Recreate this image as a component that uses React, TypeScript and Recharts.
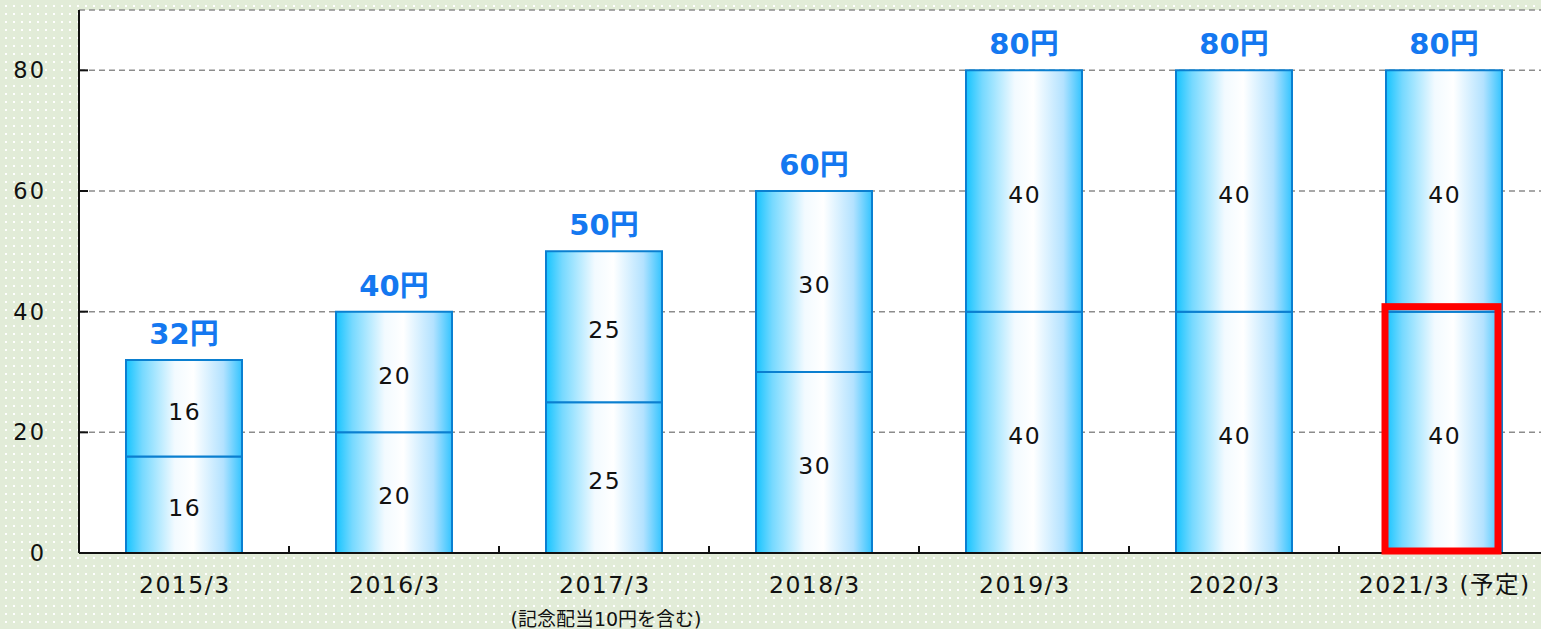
import React from "react";
import {
  BarChart,
  Bar,
  XAxis,
  YAxis,
  CartesianGrid,
  LabelList,
} from "recharts";

const categories = ["2015/3", "2016/3", "2017/3", "2018/3", "2019/3", "2020/3", "2021/3"];
const tickLabels = ["2015/3", "2016/3", "2017/3", "2018/3", "2019/3", "2020/3", "2021/3 (予定)"];
const tickNotes = ["", "", "(記念配当10円を含む)", "", "", "", ""];
const interimValues = [16, 20, 25, 30, 40, 40, 40];
const yearEndValues = [16, 20, 25, 30, 40, 40, 40];
const totalValues = [32, 40, 50, 60, 80, 80, 80];
const yTicks = [0, 20, 40, 60, 80];
const highlightCategory = "2021/3";

const data = categories.map((cat, i) => ({
  cat,
  first: interimValues[i],
  second: yearEndValues[i],
  total: totalValues[i],
}));

const FONT = "'DejaVu Sans', Verdana, 'Noto Sans CJK JP', sans-serif";
const HALF_BAND = 105;
const highlightIndex = categories.indexOf(highlightCategory);

const XTick = (props: any) => {
  const { x, y, payload } = props;
  const idx = categories.indexOf(payload.value);
  const label = tickLabels[idx];
  const note = tickNotes[idx];
  return (
    <g>
      <line x1={x + HALF_BAND} x2={x + HALF_BAND} y1={y} y2={y - 7} stroke="#111" strokeWidth={2} />
      <text
        x={x + 0.8}
        y={y + 40}
        textAnchor="middle"
        fontSize={23.5}
        letterSpacing={1.5}
        fill="#111"
        fontFamily={FONT}
      >
        {label}
      </text>
      {note ? (
        <text
          x={x + 2}
          y={y + 73}
          textAnchor="middle"
          fontSize={19}
          fill="#111"
          fontFamily={FONT}
        >
          {note}
        </text>
      ) : null}
    </g>
  );
};

const YTick = (props: any) => {
  const { x, y, payload } = props;
  return (
    <g>
      {payload.value !== 0 ? (
        <line x1={x} x2={x + 9} y1={y} y2={y} stroke="#111" strokeWidth={2} />
      ) : null}
      <text
        x={x - 33}
        y={y + 8}
        textAnchor="end"
        fontSize={22.5}
        letterSpacing={2}
        fill="#111"
        fontFamily={FONT}
      >
        {payload.value}
      </text>
    </g>
  );
};

const SegmentLabel = (props: any) => {
  const { viewBox, value } = props;
  if (!viewBox) return null;
  const { x, y, width, height } = viewBox;
  return (
    <text
      x={x + width / 2 + 0.8}
      y={y + height / 2 + 11.5}
      textAnchor="middle"
      fontSize={23.5}
      letterSpacing={1.5}
      fill="#111"
      fontFamily={FONT}
    >
      {value}
    </text>
  );
};

const HighlightBox = (props: any) => {
  const { viewBox, index } = props;
  if (!viewBox || index !== highlightIndex) return null;
  const { x, y, width, height } = viewBox;
  return (
    <rect
      x={x - 1}
      y={y - 5}
      width={width - 3}
      height={height + 3}
      fill="none"
      stroke="#ff0000"
      strokeWidth={7}
    />
  );
};

export default function App() {
  return (
    <div
      style={{
        position: "absolute",
        left: 0,
        top: 0,
        width: 1541,
        height: 629,
        overflow: "hidden",
        backgroundColor: "#e2ecd8",
        backgroundImage: "radial-gradient(circle, #ffffff 0.9px, transparent 1.3px)",
        backgroundSize: "8px 8px",
        backgroundPosition: "2px 2px",
      }}
    >
      <BarChart
        width={1560}
        height={629}
        data={data}
        margin={{ top: 10, right: 11, bottom: 0, left: 0 }}
        barSize={116}
      >
        <defs>
          <linearGradient id="barGrad" x1="0" y1="0" x2="1" y2="0">
            <stop offset="0%" stopColor="#16c4ff" />
            <stop offset="14%" stopColor="#76d9ff" />
            <stop offset="42%" stopColor="#f2faff" />
            <stop offset="58%" stopColor="#ffffff" />
            <stop offset="84%" stopColor="#b3e2ff" />
            <stop offset="100%" stopColor="#34c4ff" />
          </linearGradient>
        </defs>
        <CartesianGrid
          vertical={false}
          stroke="#8c8c8c"
          strokeWidth={1.5}
          strokeDasharray="6 4"
          fill="#ffffff"
          fillOpacity={1}
        />
        <XAxis
          dataKey="cat"
          interval={0}
          tickLine={false}
          tickSize={0}
          tickMargin={0}
          height={76}
          axisLine={{ stroke: "#111", strokeWidth: 2 }}
          tick={<XTick />}
        />
        <XAxis
          xAxisId="top"
          dataKey="cat"
          orientation="top"
          height={0}
          tick={false}
          tickLine={false}
          axisLine={{ stroke: "#1b1f6a", strokeWidth: 2 }}
        />
        <YAxis
          domain={[0, 90]}
          ticks={yTicks}
          width={79}
          tickLine={false}
          tickSize={0}
          tickMargin={0}
          axisLine={{ stroke: "#111", strokeWidth: 2 }}
          tick={<YTick />}
        />
        <Bar
          dataKey="first"
          stackId="a"
          fill="url(#barGrad)"
          stroke="#0a7fd0"
          strokeWidth={2}
          isAnimationActive={false}
        >
          <LabelList dataKey="first" content={<SegmentLabel />} />
          <LabelList dataKey="first" content={<HighlightBox />} />
        </Bar>
        <Bar
          dataKey="second"
          stackId="a"
          fill="url(#barGrad)"
          stroke="#0a7fd0"
          strokeWidth={2}
          isAnimationActive={false}
        >
          <LabelList dataKey="second" content={<SegmentLabel />} />
          <LabelList
            dataKey="total"
            position="top"
            offset={16}
            formatter={(v: any) => `${v}円`}
            fill="#1478f0"
            fontSize={29}
            fontWeight="bold"
            fontFamily={FONT}
          />
        </Bar>
      </BarChart>
    </div>
  );
}
